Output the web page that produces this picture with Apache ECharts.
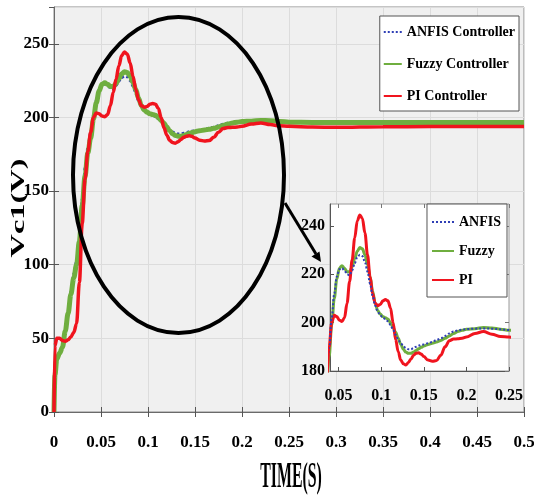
<!DOCTYPE html>
<html>
<head>
<meta charset="utf-8">
<script src="https://cdn.jsdelivr.net/npm/echarts@6/dist/echarts.min.js"></script>
<style>html,body{margin:0;padding:0;background:#fff;}#c{width:534px;height:497px;}</style>
</head>
<body>
<div id="c"></div>
<script>
const time = [0, 0.001, 0.003, 0.006, 0.009, 0.012, 0.015, 0.018, 0.021, 0.024,
  0.027, 0.030, 0.033, 0.036, 0.039, 0.042, 0.045, 0.048, 0.051, 0.054,
  0.057, 0.060, 0.063, 0.066, 0.069, 0.072, 0.075, 0.078, 0.081, 0.084,
  0.087, 0.090, 0.093, 0.096, 0.099, 0.102, 0.105, 0.108, 0.111, 0.114,
  0.117, 0.120, 0.123, 0.126, 0.129, 0.132, 0.135, 0.138, 0.141, 0.144,
  0.147, 0.150, 0.155, 0.160, 0.165, 0.170, 0.175, 0.180, 0.185, 0.190,
  0.195, 0.200, 0.210, 0.220, 0.230, 0.240, 0.250, 0.275, 0.300, 0.350,
  0.400, 0.450, 0.500];
const anfis = [0, 20, 35, 40, 44, 55, 68, 82, 94, 103,
  118, 145, 166, 180, 190, 202, 212, 219, 222, 222.5,
  221.5, 220, 219.5, 221.5, 224.5, 227, 228, 227.5, 225, 221,
  216, 211, 207, 204.5, 203, 202, 201.5, 200.5, 199, 197,
  195, 193, 191.5, 190.3, 189.5, 189, 189, 189.5, 190, 190.5,
  190.8, 191, 191.5, 192, 192.8, 193.5, 194.5, 195.5, 196.3, 196.8,
  197.1, 197.3, 197.5, 197.6, 197.5, 197.2, 196.9, 196.6, 196.6, 196.6,
  196.6, 196.6, 196.6];
const fuzzy = [0, 25, 36, 40, 44, 55, 67, 80, 91, 100,
  116, 140, 160, 176, 186, 199, 210, 218, 222.5, 223.5,
  222.5, 221, 221, 223, 226.5, 229.5, 231, 230.5, 228, 224,
  219, 213, 208, 205, 203.5, 202.5, 202, 201.5, 200, 198,
  196, 193.5, 191, 189, 187.8, 187.3, 187.3, 187.8, 188.5, 189.2,
  189.8, 190.3, 191, 191.5, 192, 192.6, 193.5, 194.5, 195.5, 196.3,
  196.8, 197.2, 197.5, 198, 197.8, 197.3, 196.8, 196.6, 196.5, 196.5,
  196.5, 196.5, 196.5];
const pi = [0, 45, 50, 50, 48.5, 48, 49, 51, 54, 60,
  88, 128, 158, 177, 190, 200, 203, 202.5, 201, 200.5,
  202, 208, 217, 226, 235, 242, 244.5, 243, 237, 228,
  219, 212, 208, 207, 207.5, 209, 209.5, 209, 206, 200,
  193, 188, 184.5, 183, 182.5, 183.5, 185, 186.5, 187.3, 187.5,
  187, 186, 184.5, 184, 184.3, 186.5, 190, 192.5, 193.2, 193.3,
  193.5, 194, 195.5, 196.3, 195.2, 194.3, 194, 193.5, 193.3, 193.7,
  193.8, 193.8, 193.8];
const mainNames = ['ANFIS Controller', 'Fuzzy Controller', 'PI Controller'];
const insetNames = ['ANFIS', 'Fuzzy', 'PI'];
const insetXTicks = [0.05, 0.1, 0.15, 0.2, 0.25];
const insetYTicks = [180, 200, 220, 240];

const BLUE = '#2f3fb5', GREEN = '#6fae3f', RED = '#f0141e';
const FONT = '"Liberation Serif", "Times New Roman", serif';
const pairs = vals => time.map((t, i) => [t, vals[i]]);
const fmt = v => String(+(+v).toFixed(2));

const chart = echarts.init(document.getElementById('c'), null, {renderer: 'canvas'});
const labelStyle = {fontFamily: FONT, fontWeight: 'bold', color: '#000'};

function line(name, data, color, width, type, xi, yi, z) {
  return {
    name, type: 'line', data, xAxisIndex: xi, yAxisIndex: yi, z,
    symbol: 'none', smooth: 0.35, smoothMonotone: 'x',
    lineStyle: {color, width, type}, itemStyle: {color}
  };
}

chart.setOption({
  animation: false,
  grid: [
    {left: 54, right: 10, top: 7, bottom: 85, show: true, backgroundColor: '#f0f0f0', borderColor: '#8a8a8a', borderWidth: 1, outerBoundsMode: 'none', containLabel: false},
    {left: 330, right: 25, top: 204, bottom: 126, show: true, backgroundColor: '#ffffff', borderColor: '#9a9a9a', borderWidth: 1, z: 3, outerBoundsMode: 'none', containLabel: false}
  ],
  legend: [
    {data: mainNames, orient: 'vertical', right: 15, top: 16, padding: [9, 4, 8, 3], itemGap: 18, itemWidth: 18, itemHeight: 14,
     itemStyle: {opacity: 0},
     backgroundColor: '#fff', borderColor: '#555', borderWidth: 1, textStyle: {fontFamily: FONT, fontWeight: 'bold', fontSize: 14, color: '#000'}, z: 6},
    {data: insetNames, orient: 'vertical', right: 27, top: 204, padding: [11, 6, 10, 4], itemGap: 15, itemWidth: 22, itemHeight: 14,
     itemStyle: {opacity: 0},
     backgroundColor: '#fff', borderColor: '#555', borderWidth: 1, textStyle: {fontFamily: FONT, fontWeight: 'bold', fontSize: 14, color: '#000'}, z: 7}
  ],
  xAxis: [
    {type: 'value', gridIndex: 0, min: 0, max: 0.5, interval: 0.05, position: 'bottom',
     axisLine: {show: true, onZero: false, lineStyle: {color: '#6a6a6a'}},
     axisTick: {inside: true, length: 5, lineStyle: {color: '#555'}},
     axisLabel: Object.assign({fontSize: 17, margin: 22, formatter: fmt}, labelStyle),
     splitLine: {show: true, lineStyle: {color: '#dcdcdc', width: 1}}},
    {type: 'value', gridIndex: 0, min: 0, max: 0.5, interval: 0.05, position: 'top',
     axisLine: {show: false}, axisTick: {inside: true, length: 5, lineStyle: {color: '#555'}},
     axisLabel: {show: false}, splitLine: {show: false}},
    {type: 'value', gridIndex: 1, min: 0.04, max: 0.25, position: 'bottom', z: 4,
     axisLine: {show: true, onZero: false, lineStyle: {color: '#555'}},
     axisTick: {inside: true, length: 4, customValues: insetXTicks, lineStyle: {color: '#555'}},
     axisLabel: Object.assign({fontSize: 16, margin: 17, customValues: insetXTicks, formatter: fmt}, labelStyle),
     splitLine: {show: false}},
    {type: 'value', gridIndex: 1, min: 0.04, max: 0.25, position: 'top', z: 4,
     axisLine: {show: false}, axisTick: {inside: true, length: 4, customValues: insetXTicks, lineStyle: {color: '#777'}},
     axisLabel: {show: false}, splitLine: {show: false}}
  ],
  yAxis: [
    {type: 'value', gridIndex: 0, min: 0, max: 275, interval: 50, position: 'left',
     axisLine: {show: true, onZero: false, lineStyle: {color: '#6a6a6a'}},
     axisTick: {show: true, inside: true, length: 5, lineStyle: {color: '#555'}},
     axisLabel: Object.assign({fontSize: 17, margin: 5, showMaxLabel: false}, labelStyle),
     splitLine: {show: true, lineStyle: {color: '#dcdcdc', width: 1}}},
    {type: 'value', gridIndex: 0, min: 0, max: 275, interval: 50, position: 'right',
     axisLine: {show: false}, axisTick: {show: true, inside: true, length: 5, lineStyle: {color: '#555'}},
     axisLabel: {show: false}, splitLine: {show: false}},
    {type: 'value', gridIndex: 1, min: 180, max: 249, position: 'left', z: 4,
     axisLine: {show: true, onZero: false, lineStyle: {color: '#555'}},
     axisTick: {show: true, inside: true, length: 4, customValues: insetYTicks, lineStyle: {color: '#555'}},
     axisLabel: Object.assign({fontSize: 16, margin: 5, customValues: insetYTicks}, labelStyle),
     splitLine: {show: false}},
    {type: 'value', gridIndex: 1, min: 180, max: 249, position: 'right', z: 4,
     axisLine: {show: false}, axisTick: {show: true, inside: true, length: 4, customValues: insetYTicks, lineStyle: {color: '#777'}},
     axisLabel: {show: false}, splitLine: {show: false}}
  ],
  series: [
    line('ANFIS Controller', pairs(anfis), BLUE, 2.5, 'dotted', 0, 0, 2),
    line('Fuzzy Controller', pairs(fuzzy), GREEN, 5, 'solid', 0, 0, 3),
    line('PI Controller', pairs(pi), RED, 3.5, 'solid', 0, 0, 4),
    line('Fuzzy', pairs(fuzzy), GREEN, 3, 'solid', 2, 2, 5),
    line('PI', pairs(pi), RED, 3, 'solid', 2, 2, 5),
    line('ANFIS', pairs(anfis), BLUE, 2, 'dotted', 2, 2, 6)
  ],
  graphic: [
    {type: 'ellipse', shape: {cx: 178.5, cy: 175, rx: 105.5, ry: 158}, style: {fill: 'none', stroke: '#000', lineWidth: 4}, z: 20, silent: true},
    {type: 'line', shape: {x1: 285, y1: 203, x2: 316, y2: 254}, style: {stroke: '#000', lineWidth: 3}, z: 20, silent: true},
    {type: 'polygon', shape: {points: [[321, 262], [311.5, 256.5], [319.5, 251.5]]}, style: {fill: '#000'}, z: 20, silent: true},
    {type: 'text', x: 291, y: 478, scaleX: 0.66, scaleY: 1.45, z: 20, silent: true,
     style: {text: 'TIME(S)', fontFamily: FONT, fontWeight: 'bold', fontSize: 24, fill: '#000', align: 'center', verticalAlign: 'middle'}},
    {type: 'text', x: 19, y: 208, rotation: Math.PI / 2, scaleX: 1.8, scaleY: 1, z: 20, silent: true,
     style: {text: 'Vc1(V)', fontFamily: FONT, fontWeight: 'bold', fontSize: 18, fill: '#000', align: 'center', verticalAlign: 'middle'}}
  ]
});
</script>
</body>
</html>
